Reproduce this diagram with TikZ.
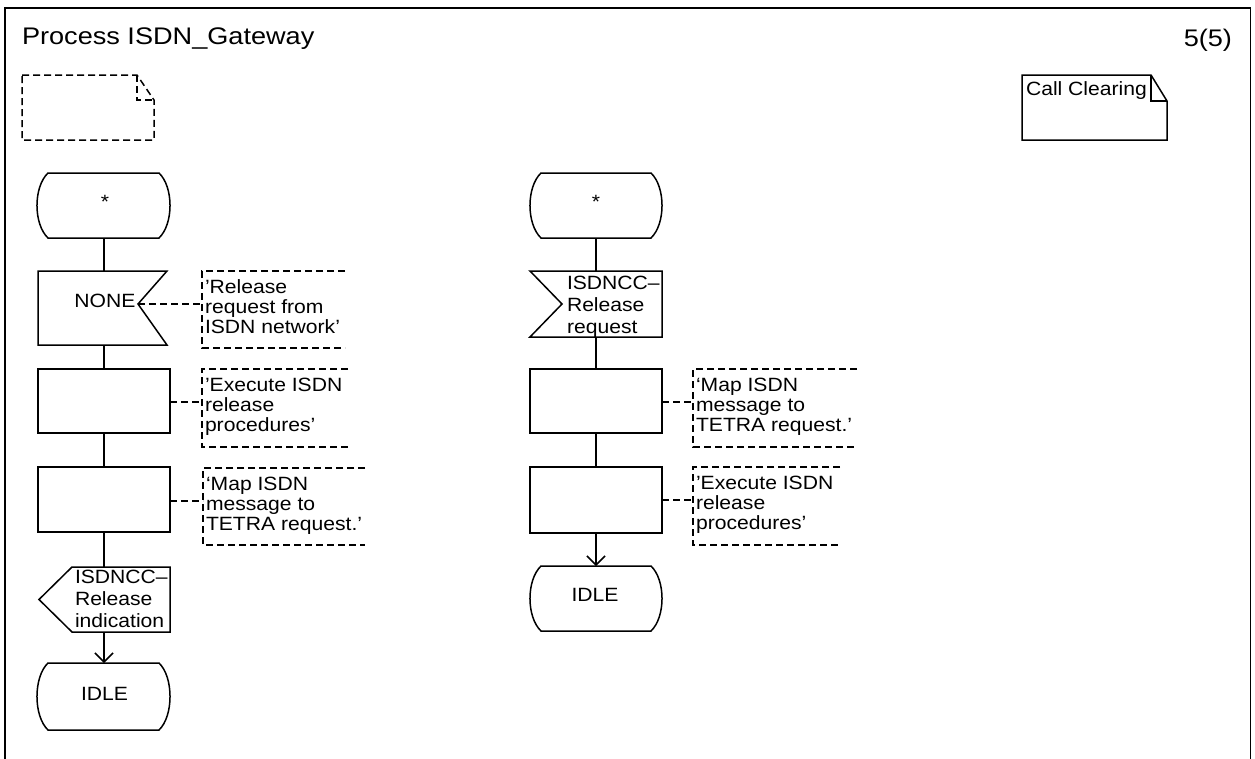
\documentclass[tikz,border=0pt]{standalone}
\usepackage{fontspec}
\setmainfont{Liberation Sans}[FakeStretch=1.1]
\newfontfamily\titlefont{Liberation Sans}[FakeStretch=1.13]
\usetikzlibrary{arrows.meta}
\newcommand{\mylines}[1]{\begin{tabular}[t]{@{}l@{}}#1\end{tabular}}
\newcommand{\drawstate}[1]{%
  \draw ([xshift=11pt]#1.north west) -- ([xshift=-11pt]#1.north east)
    .. controls ([xshift=3.7pt,yshift=-14pt]#1.north east) and ([xshift=3.7pt,yshift=14pt]#1.south east) .. ([xshift=-11pt]#1.south east)
    -- ([xshift=11pt]#1.south west)
    .. controls ([xshift=-3.7pt,yshift=14pt]#1.south west) and ([xshift=-3.7pt,yshift=-14pt]#1.north west) .. cycle;}
\newcommand{\drawtask}[1]{\draw (#1.north west) rectangle (#1.south east);}
\begin{document}
\begin{tikzpicture}[x=1pt,y=-1pt,line width=1.5pt,
  sym/.style={rectangle,inner sep=0pt,outer sep=0pt,draw=none},
  lbl/.style={inner sep=0pt,outer sep=0pt,font=\fontsize{19.2}{20}\selectfont},
  lblw/.style={inner sep=0pt,outer sep=0pt,font=\fontsize{19.2}{22}\selectfont},
  ttl/.style={inner sep=0pt,outer sep=0pt,font=\titlefont\fontsize{24}{26}\selectfont},
  cmt/.style={dash pattern=on 7pt off 4pt},
  arr/.style={-{Straight Barb[length=9pt,width=18pt]}}]
\useasboundingbox (0,0) rectangle (1255,758);
% frame
\draw (5,762) -- (5,8) -- (1250.5,8) -- (1250.5,762);
\node[ttl,anchor=base west] (title) at (22,44.5) {Process ISDN\_Gateway};
\node[ttl,anchor=base east] (page) at (1232,46.5) {5(5)};
% dashed document
\draw[cmt] (22,75) -- (137,75) -- (154,100) -- (154,140) -- (22,140) -- cycle;
\draw[cmt] (137,75) -- (137,100) -- (154,100);
% Call Clearing document
\draw (1022,75) -- (1151,75) -- (1167,101) -- (1167,140) -- (1022,140) -- cycle;
\draw (1151,75) -- (1151,101) -- (1167,101);
\node[lbl,anchor=base west] (cc) at (1026,95) {Call Clearing};

\coordinate (colL) at (104,0);
\coordinate (colR) at (596,0);

% ---------------- left column
\node[sym,minimum width=133pt,minimum height=65pt] (s1) at (103.5,205.5) {};
\drawstate{s1}
\node[lbl] (s1t) at (105,202) {*};

\node[sym,minimum width=129pt,minimum height=74pt] (i1) at (102.5,308) {};
\coordinate (i1n) at ([xshift=-29pt,yshift=4pt]i1.east);
\draw (i1.north west) -- (i1.north east) -- (i1n) -- (i1.south east) -- (i1.south west) -- cycle;
\node[lbl] (i1t) at (105,301) {NONE};

\node[sym,minimum width=132pt,minimum height=64pt] (t1) at (104,401) {};
\drawtask{t1}
\node[sym,minimum width=132pt,minimum height=65pt] (t2) at (104,499.5) {};
\drawtask{t2}

\node[sym,minimum width=131pt,minimum height=65pt] (o1) at (104.5,599.5) {};
\draw (o1.north east) -- (o1.south east) -- ([xshift=33pt]o1.south west) -- (o1.west) -- ([xshift=33pt]o1.north west) -- cycle;
\node[lblw,anchor=base west] (o1t) at (75,583) {\mylines{ISDNCC–\\Release\\indication}};

\node[sym,minimum width=133pt,minimum height=67pt] (e1) at (103.5,696.5) {};
\drawstate{e1}
\node[lbl] (e1t) at (104.5,693.5) {IDLE};

\draw (s1.south -| colL) -- (i1.north -| colL);
\draw (i1.south -| colL) -- (t1.north -| colL);
\draw (t1.south -| colL) -- (t2.north -| colL);
\draw (t2.south -| colL) -- (o1.north -| colL);
\draw[arr] (o1.south -| colL) -- (e1.north -| colL);

% comments left
\draw[cmt] (345,271) -- (202,271) -- (202,348) -- (345,348);
\coordinate (c1) at (202,304);
\draw[cmt] (i1n) -- (c1);
\node[lbl,anchor=base west] (c1t) at (205,293) {\mylines{’Release\\request from\\ISDN network’}};

\draw[cmt] (348,369) -- (202,369) -- (202,447) -- (348,447);
\coordinate (c2) at (202,402);
\draw[cmt] (t1.east |- c2) -- (c2);
\node[lbl,anchor=base west] (c2t) at (205,391) {\mylines{’Execute ISDN\\release\\procedures’}};

\draw[cmt] (365,468) -- (203,468) -- (203,545) -- (365,545);
\coordinate (c3) at (203,501);
\draw[cmt] (t2.east |- c3) -- (c3);
\node[lbl,anchor=base west] (c3t) at (206,490) {\mylines{‘Map ISDN\\message to\\TETRA request.’}};

% ---------------- right column
\node[sym,minimum width=132pt,minimum height=65pt] (s2) at (596,205.5) {};
\drawstate{s2}
\node[lbl] (s2t) at (596,202) {*};

\node[sym,minimum width=132pt,minimum height=66pt] (i2) at (596,304) {};
\draw (i2.north west) -- (i2.north east) -- (i2.south east) -- (i2.south west) -- ([xshift=32pt]i2.west) -- cycle;
\node[lblw,anchor=base west] (i2t) at (567,289) {\mylines{ISDNCC–\\Release\\request}};

\node[sym,minimum width=132pt,minimum height=64pt] (t3) at (596,401) {};
\drawtask{t3}
\node[sym,minimum width=132pt,minimum height=66pt] (t4) at (596,500) {};
\drawtask{t4}

\node[sym,minimum width=132pt,minimum height=65pt] (e2) at (596,598.5) {};
\drawstate{e2}
\node[lbl] (e2t) at (595,594.5) {IDLE};

\draw (s2.south -| colR) -- (i2.north -| colR);
\draw (i2.south -| colR) -- (t3.north -| colR);
\draw (t3.south -| colR) -- (t4.north -| colR);
\draw[arr] (t4.south -| colR) -- (e2.north -| colR);

% comments right
\draw[cmt] (857,369) -- (693,369) -- (693,447) -- (857,447);
\coordinate (c4) at (693,402);
\draw[cmt] (t3.east |- c4) -- (c4);
\node[lbl,anchor=base west] (c4t) at (696,391) {\mylines{‘Map ISDN\\message to\\TETRA request.’}};

\draw[cmt] (840,467) -- (693,467) -- (693,545) -- (840,545);
\coordinate (c5) at (693,500);
\draw[cmt] (t4.east |- c5) -- (c5);
\node[lbl,anchor=base west] (c5t) at (696,489) {\mylines{’Execute ISDN\\release\\procedures’}};
\end{tikzpicture}
\end{document}
